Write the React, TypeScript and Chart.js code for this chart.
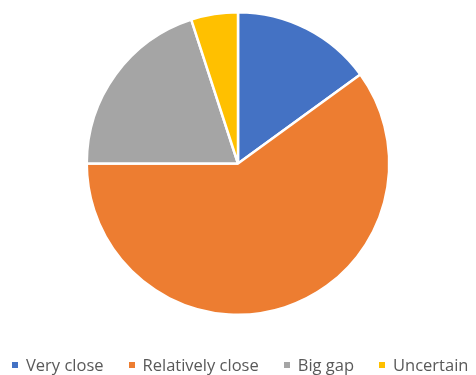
import React, { useEffect, useRef } from "react";
import { Chart, registerables } from "chart.js";

Chart.register(...registerables);

const categories = ["Very close", "Relatively close", "Big gap", "Uncertain"];
const values = [15, 60, 20, 5];
const colors = ["#4472C4", "#ED7D31", "#A5A5A5", "#FFC000"];

export default function App() {
  const ref = useRef<HTMLCanvasElement>(null);
  useEffect(() => {
    document.body.style.margin = "0";
    const chart = new Chart(ref.current!, {
      type: "pie",
      data: {
        labels: categories,
        datasets: [
          {
            data: values,
            backgroundColor: colors,
            borderColor: "#ffffff",
            borderWidth: 2.5,
          },
        ],
      },
      options: {
        responsive: false,
        animation: false,
        layout: { padding: { top: 11, bottom: 59, left: 0, right: 0 } },
        plugins: {
          tooltip: { enabled: false },
          legend: { display: false },
        },
      },
    });
    return () => chart.destroy();
  }, []);
  return (
    <div style={{ position: "relative", width: 476, height: 375, overflow: "hidden" }}>
      <canvas ref={ref} width={476} height={375} style={{ display: "block" }} />
      <div
        style={{
          position: "absolute",
          left: 12,
          top: 355,
          height: 20,
          display: "flex",
          alignItems: "center",
          gap: 25,
          whiteSpace: "nowrap",
          fontFamily: "'Open Sans', sans-serif",
          fontSize: 16.5,
          color: "#595959",
          lineHeight: "20px",
        }}
      >
        {categories.map((c, i) => (
          <div key={c} style={{ display: "flex", alignItems: "center" }}>
            <span
              style={{
                display: "inline-block",
                width: 6,
                height: 6,
                background: colors[i],
                marginRight: 8,
              }}
            />
            <span>{c}</span>
          </div>
        ))}
      </div>
    </div>
  );
}
